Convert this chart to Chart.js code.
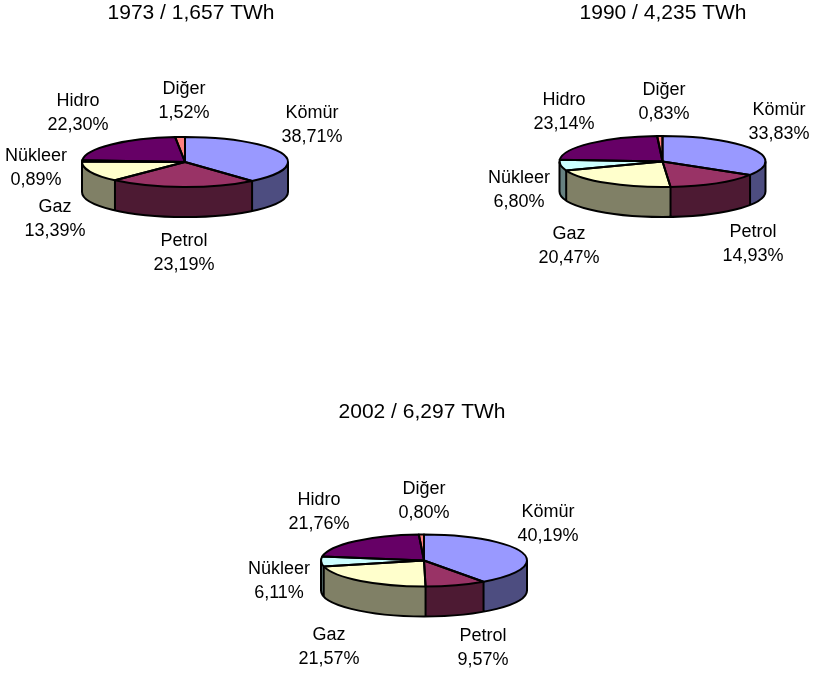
<!DOCTYPE html>
<html>
<head>
<meta charset="utf-8">
<style>
  html, body { margin: 0; padding: 0; background: #fff; overflow: hidden; }
  body { width: 813px; height: 674px; position: relative; }
  .pie { position: absolute; width: 390px; height: 290px; }
</style>
<script src="https://cdn.jsdelivr.net/npm/chart.js@4"></script>
</head>
<body>
<div class="pie" style="left:-4px;top:0"><canvas id="pie1973"></canvas></div>
<div class="pie" style="left:468px;top:0"><canvas id="pie1990"></canvas></div>
<div class="pie" style="left:227px;top:399px"><canvas id="pie2002"></canvas></div>

<script>
// the data
const categories = ["Kömür", "Petrol", "Gaz", "Nükleer", "Hidro", "Diğer"];
const values1973 = [38.71, 23.19, 13.39, 0.89, 22.30, 1.52];
const values1990 = [33.83, 14.93, 20.47, 6.80, 23.14, 0.83];
const values2002 = [40.19, 9.57, 21.57, 6.11, 21.76, 0.80];
const title1973 = "1973 / 1,657 TWh";
const title1990 = "1990 / 4,235 TWh";
const title2002 = "2002 / 6,297 TWh";

// styles
const topColors = ["#9999ff", "#993366", "#ffffcc", "#ccffff", "#660066", "#ff8080"];
const sideColors = ["#4d4d80", "#4d1a33", "#808066", "#668080", "#330033", "#804040"];
const fontFamily = "'Liberation Sans', Arial, sans-serif";
const labelFont = "18px " + fontFamily;

// label centres on the page (first line), same order as categories
const labels1973 = [[312, 113], [184, 241], [55, 207], [36, 156], [78, 101], [184, 89]];
const labels1990 = [[779, 110], [753, 232], [569, 234], [519, 178], [564, 100], [664, 90]];
const labels2002 = [[548, 512], [483, 636], [329, 635], [279, 569], [319, 500], [424, 489]];

const pie3d = {
  id: "pie3d",
  beforeDatasetsDraw(chart, args, opts) {
    const ctx = chart.ctx;
    const arcs = chart.getDatasetMeta(0).data;
    const r = arcs[0].outerRadius;
    const ry = opts.ry;
    const cx = opts.cx - opts.left, cy = opts.cy - opts.top;

    // side wall, only the part of each slice that faces the front
    arcs.forEach((arc, i) => {
      const a = Math.max(arc.startAngle, 0);
      const b = Math.min(arc.endAngle, Math.PI);
      if (b <= a) return;
      ctx.fillStyle = sideColors[i];
      ctx.beginPath();
      ctx.ellipse(cx, cy, r, ry, 0, a, b);
      ctx.ellipse(cx, cy + opts.depth, r, ry, 0, b, a, true);
      ctx.closePath();
      ctx.fill();
    });

    // the library draws the top face through this transform
    ctx.save();
    ctx.translate(cx, cy);
    ctx.scale(1, ry / r);
    ctx.translate(-arcs[0].x, -arcs[0].y);
  },
  afterDatasetsDraw(chart, args, opts) {
    const ctx = chart.ctx;
    ctx.restore();

    const arcs = chart.getDatasetMeta(0).data;
    const r = arcs[0].outerRadius;
    const ry = opts.ry;
    const cx = opts.cx - opts.left, cy = opts.cy - opts.top;
    ctx.strokeStyle = "#000";
    ctx.lineWidth = 2;
    ctx.lineJoin = "round";

    // front wall: bottom rim and the vertical edges
    ctx.beginPath();
    ctx.moveTo(cx - r, cy);
    ctx.lineTo(cx - r, cy + opts.depth);
    ctx.ellipse(cx, cy + opts.depth, r, ry, 0, Math.PI, 0, true);
    ctx.lineTo(cx + r, cy);
    arcs.forEach(arc => {
      const s = Math.sin(arc.startAngle);
      if (s > 0) {
        const px = cx + r * Math.cos(arc.startAngle);
        const py = cy + ry * s;
        ctx.moveTo(px, py);
        ctx.lineTo(px, py + opts.depth);
      }
    });
    ctx.stroke();

    // top face outline
    arcs.forEach(arc => {
      ctx.beginPath();
      ctx.moveTo(cx, cy);
      ctx.ellipse(cx, cy, r, ry, 0, arc.startAngle, arc.endAngle);
      ctx.closePath();
      ctx.stroke();
    });

    // data labels
    ctx.font = labelFont;
    ctx.fillStyle = "#000";
    ctx.textAlign = "center";
    ctx.textBaseline = "middle";
    const values = chart.data.datasets[0].data;
    chart.data.labels.forEach((name, i) => {
      const x = opts.labels[i][0] - opts.left;
      const y = opts.labels[i][1] - opts.top;
      ctx.fillText(name, x, y);
      ctx.fillText(values[i].toFixed(2).replace(".", ",") + "%", x, y + 24.5);
    });
  }
};

function drawPie(canvasId, titleText, values, layout, labelPos) {
  new Chart(canvasId, {
    type: "pie",
    data: {
      labels: categories,
      datasets: [{
        data: values,
        backgroundColor: topColors,
        borderWidth: 0,
        radius: 103
      }]
    },
    plugins: [pie3d],
    options: {
      responsive: true,
      maintainAspectRatio: false,
      animation: false,
      events: [],
      plugins: {
        legend: { display: false },
        tooltip: { enabled: false },
        title: {
          display: true,
          text: titleText,
          color: "#000",
          font: { family: fontFamily, size: 21, weight: "normal" },
          padding: { top: 1, bottom: 0 }
        },
        pie3d: Object.assign({ depth: 30, labels: labelPos }, layout)
      }
    }
  });
}

drawPie("pie1973", title1973, values1973, { left: -4, top: 0, cx: 185, cy: 162, ry: 25 }, labels1973);
drawPie("pie1990", title1990, values1990, { left: 468, top: 0, cx: 662.5, cy: 161.5, ry: 25.5 }, labels1990);
drawPie("pie2002", title2002, values2002, { left: 227, top: 399, cx: 424, cy: 560.5, ry: 26 }, labels2002);
</script>
</body>
</html>
